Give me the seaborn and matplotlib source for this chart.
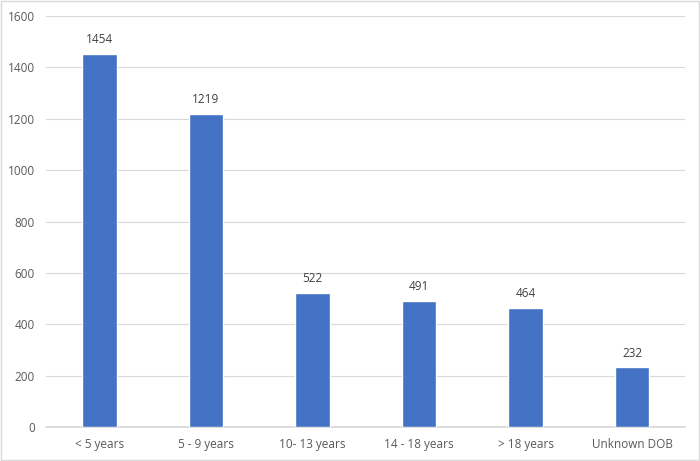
import matplotlib
matplotlib.use("Agg")
import matplotlib.pyplot as plt
import seaborn as sns
import pandas as pd

# data
categories = ["< 5 years", "5 - 9 years", "10- 13 years", "14 - 18 years", "> 18 years", "Unknown DOB"]
counts = [1454, 1219, 522, 491, 464, 232]
y_ticks = [0, 200, 400, 600, 800, 1000, 1200, 1400, 1600]

sns.set_theme(style="white")
plt.rcParams['font.family'] = ['Open Sans', 'DejaVu Sans']

df = pd.DataFrame({"group": categories, "count": counts})

fig = plt.figure(figsize=(7, 4.61), dpi=100)
ax = fig.add_axes([0.066, 0.074, 0.913, 0.891])

sns.barplot(data=df, x="group", y="count", color="#4472C4", width=0.32,
            saturation=1, ax=ax, zorder=3)

for i, v in enumerate(counts):
    ax.text(i, v + 30, str(v), ha="center", va="bottom", fontsize=8.5, color="#404040")

ax.set_ylim(0, 1600)
ax.set_yticks(y_ticks)
ax.set_xlim(-0.5, len(categories) - 0.5)
ax.yaxis.grid(True, color="#D9D9D9", linewidth=0.8, zorder=0)
ax.set_axisbelow(True)
for s in ["top", "right", "left"]:
    ax.spines[s].set_visible(False)
ax.spines["bottom"].set_color("#D9D9D9")
ax.tick_params(axis="both", length=0, labelsize=8.5, colors="#595959", pad=8)
ax.set_xlabel("")
ax.set_ylabel("")

# light frame around the whole chart, like the Excel chart area
border = plt.Rectangle((0.002, 0.003), 0.996, 0.994, transform=fig.transFigure,
                       fill=False, edgecolor="#D9D9D9", linewidth=1)
fig.patches.append(border)

fig.savefig("out.png", dpi=100)
